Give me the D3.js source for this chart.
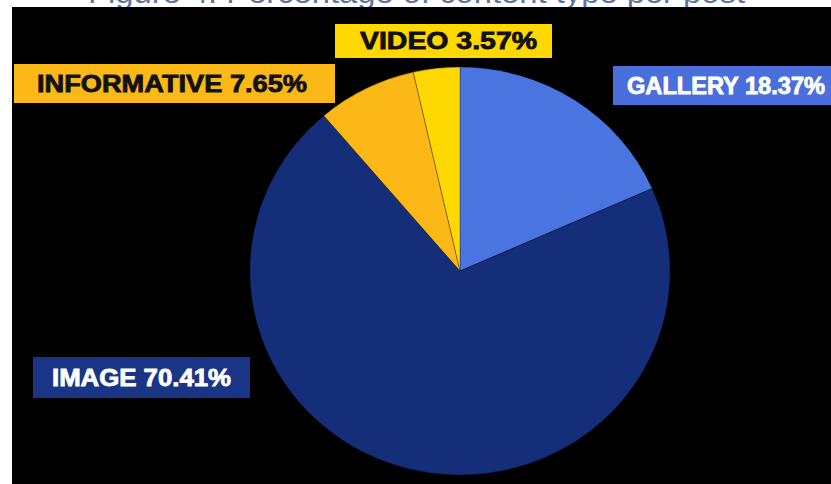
<!DOCTYPE html>
<head>
    <title>Content type per post</title>
    <script src='https://cdn.jsdelivr.net/npm/d3@7/dist/d3.min.js'></script>
</head>
<style>
    body { margin: 0; background: #fff; }
    svg { display: block; }
    .lbl { font-family: 'Liberation Sans', Arial, sans-serif; font-weight: bold; font-size: 23px; }
</style>
<body>
    <svg></svg>
</body>

<script>
    var vWidth = 831;
    var vHeight = 484;

    // data
    var categories = ['GALLERY', 'IMAGE', 'INFORMATIVE', 'VIDEO'];
    var shares = [18.37, 70.41, 7.65, 3.57];
    var sliceColors = ['#4a74df', '#142e79', '#fbb817', '#fed800'];
    var labelColors = ['#4a6fdc', '#1a3486', '#fbb817', '#fed800'];
    var textColors = ['#ffffff', '#ffffff', '#111111', '#111111'];

    // label box layout (x, y, w, h, text start, text end)
    var boxes = [
        [613, 66, 218, 39, 627, 825],
        [33, 357, 217, 41, 52, 231],
        [14, 64, 321, 39, 37, 307],
        [335, 24, 217, 34, 360, 537]
    ];

    var svg = d3.select('svg')
        .attr('width', vWidth)
        .attr('height', vHeight);

    // title, cut off by the top edge as in the source picture
    svg.append('text')
        .attr('x', 88)
        .attr('y', 3)
        .attr('textLength', 657)
        .attr('lengthAdjust', 'spacingAndGlyphs')
        .style('font-family', 'Liberation Sans, Arial, sans-serif')
        .style('font-size', '30px')
        .style('fill', '#5f739f')
        .text('Figure 4: Percentage of content type per post');

    svg.append('rect')
        .attr('x', 12).attr('y', 7)
        .attr('width', vWidth - 12).attr('height', vHeight - 7)
        .attr('fill', '#000');

    var pie = d3.pie().sort(null).value(function (d) { return d; });
    var arcs = pie(shares);
    var arc = d3.arc().innerRadius(0).outerRadius(204);

    var g = svg.append('g')
        .attr('transform', 'translate(460,271) scale(1.03,1)');

    g.selectAll('path')
        .data(arcs)
        .enter().append('path')
        .attr('d', arc)
        .attr('fill', function (d, i) { return sliceColors[i]; })
        .attr('stroke', 'rgba(0,0,0,0.35)')
        .attr('stroke-width', 0.8);

    var lbl = svg.selectAll('g.lbl')
        .data(categories)
        .enter().append('g')
        .attr('class', 'lbl');

    lbl.append('rect')
        .attr('x', function (d, i) { return boxes[i][0]; })
        .attr('y', function (d, i) { return boxes[i][1]; })
        .attr('width', function (d, i) { return boxes[i][2]; })
        .attr('height', function (d, i) { return boxes[i][3]; })
        .attr('fill', function (d, i) { return labelColors[i]; });

    lbl.append('text')
        .attr('x', function (d, i) { return boxes[i][4]; })
        .attr('y', function (d, i) { return boxes[i][1] + boxes[i][3] / 2 + 8; })
        .attr('textLength', function (d, i) { return boxes[i][5] - boxes[i][4]; })
        .attr('lengthAdjust', 'spacingAndGlyphs')
        .attr('fill', function (d, i) { return textColors[i]; })
        .attr('stroke', function (d, i) { return textColors[i]; })
        .attr('stroke-width', 0.8)
        .text(function (d, i) { return d + ' ' + shares[i].toFixed(2) + '%'; });
</script>
